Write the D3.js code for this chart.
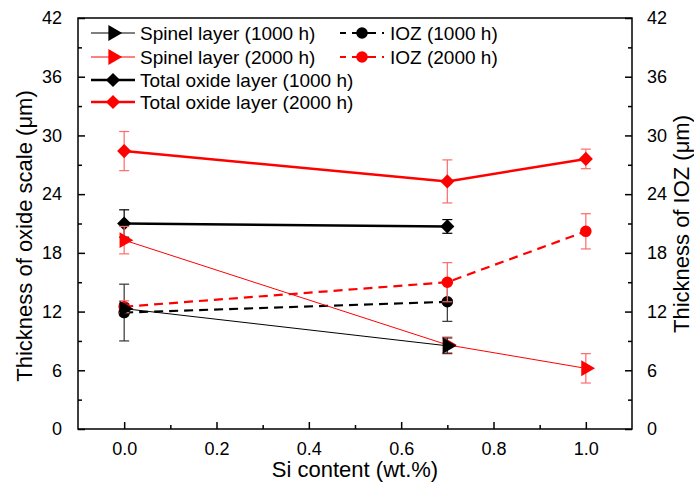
<!DOCTYPE html>
<html>
<head>
<meta charset="utf-8">
<script src="https://cdn.jsdelivr.net/npm/d3@7"></script>
<style>
body { margin:0; background:#fff; }
svg text { font-family: Arial, "Liberation Sans", sans-serif; }
</style>
</head>
<body>
<svg class="chart"></svg>
<script>
// data
var siContent = [0, 0.7, 1.0];
var spinel1000 = [12.3, 8.5];
var spinel1000Err = [0.5, 0.8];
var spinel2000 = [19.3, 8.6, 6.2];
var spinel2000Err = [1.4, 0.8, 1.5];
var total1000 = [21.0, 20.7];
var total1000Err = [1.4, 0.7];
var total2000 = [28.4, 25.3, 27.6];
var total2000Err = [2.0, 2.2, 1.0];
var ioz1000 = [11.9, 13.0];
var ioz1000Err = [2.9, 2.0];
var ioz2000 = [12.5, 15.0, 20.2];
var ioz2000Err = [0.6, 2.0, 1.8];
var yTicks = [0, 6, 12, 18, 24, 30, 36, 42];
var yMinorTicks = [3, 9, 15, 21, 27, 33, 39];
var xTicks = [0, 0.2, 0.4, 0.6, 0.8, 1.0];
var xMinorTicks = [0.1, 0.3, 0.5, 0.7, 0.9];

var drawChart = function(w, h)
{
  var screen = { width:w, height:h };
  var margins = { top:18, bottom:56, left:78, right:62 };
  var width = screen.width - margins.left - margins.right;
  var height = screen.height - margins.top - margins.bottom;

  var svg = d3.select(".chart")
              .attr("width", screen.width)
              .attr("height", screen.height);

  var xScale = d3.scaleLinear().domain([-0.1, 1.1]).range([0, width]);
  var yScale = d3.scaleLinear().domain([0, 42]).range([height, 0]);
  var yScale2 = d3.scaleLinear().domain([0, 42]).range([height, 0]);

  var plot = svg.append("g")
                .attr("transform", "translate(" + margins.left + "," + margins.top + ")");

  // frame
  plot.append("rect").attr("width", width).attr("height", height)
      .attr("fill", "none").attr("stroke", "#000").attr("stroke-width", 1.5);

  // axes, ticks pointing inside
  var xAxis = d3.axisBottom(xScale).tickValues(xTicks).tickFormat(d3.format(".1f"))
                .tickSizeInner(-7).tickSizeOuter(0).tickPadding(13);
  var xMinor = d3.axisBottom(xScale).tickValues(xMinorTicks)
                .tickFormat("").tickSizeInner(-4).tickSizeOuter(0);
  var yAxis = d3.axisLeft(yScale).tickValues(yTicks).tickSizeInner(-7).tickSizeOuter(0).tickPadding(16);
  var yMinor = d3.axisLeft(yScale).tickValues(yMinorTicks).tickFormat("").tickSizeInner(-4).tickSizeOuter(0);
  var yAxis2 = d3.axisRight(yScale2).tickValues(yTicks).tickSizeInner(-7).tickSizeOuter(0).tickPadding(15);
  var yMinor2 = d3.axisRight(yScale2).tickValues(yMinorTicks).tickFormat("").tickSizeInner(-4).tickSizeOuter(0);

  var axes = [
    [xAxis, "translate(0," + height + ")"],
    [xMinor, "translate(0," + height + ")"],
    [yAxis, "translate(0,0)"],
    [yMinor, "translate(0,0)"],
    [yAxis2, "translate(" + width + ",0)"],
    [yMinor2, "translate(" + width + ",0)"]
  ];
  axes.forEach(function(a) {
    var g = plot.append("g").attr("transform", a[1]).call(a[0]);
    g.select(".domain").remove();
    g.selectAll("line").attr("stroke", "#000").attr("stroke-width", 1.5);
    g.selectAll("text").attr("font-size", 18).attr("fill", "#000")
     .attr("font-family", "Arial, 'Liberation Sans', sans-serif");
  });

  // axis titles
  svg.append("text").attr("x", margins.left + width / 2).attr("y", 477)
     .attr("text-anchor", "middle").attr("font-size", 22).text("Si content (wt.%)");
  svg.append("text").attr("transform", "translate(32,236) rotate(-90)")
     .attr("text-anchor", "middle").attr("font-size", 22).text("Thickness of oxide scale (\u03bcm)");
  svg.append("text").attr("transform", "translate(689,224) rotate(-90)")
     .attr("text-anchor", "middle").attr("font-size", 22).text("Thickness of IOZ (\u03bcm)");

  var tri = d3.symbol().type(d3.symbolTriangle).size(110);
  var dia = d3.symbol().type(d3.symbolSquare).size(100);
  var circ = d3.symbol().type(d3.symbolCircle).size(105);

  var series = [
    { vals: total2000, err: total2000Err, color: "#ff0000", errColor: "#ff6a6a", width: 2.5, dash: null, sym: dia, rot: 45 },
    { vals: total1000, err: total1000Err, color: "#000000", errColor: "#000000", width: 2.5, dash: null, sym: dia, rot: 45 },
    { vals: ioz1000, err: ioz1000Err, color: "#000000", errColor: "#333333", width: 2.2, dash: "9,6", sym: circ, rot: 0 },
    { vals: ioz2000, err: ioz2000Err, color: "#ff0000", errColor: "#ff6a6a", width: 2.2, dash: "9,6", sym: circ, rot: 0 },
    { vals: spinel2000, err: spinel2000Err, color: "#ff0000", errColor: "#ff6a6a", width: 1, dash: null, sym: tri, rot: 90 },
    { vals: spinel1000, err: spinel1000Err, color: "#000000", errColor: "#333333", width: 1, dash: null, sym: tri, rot: 90 }
  ];

  var line = d3.line()
               .x(function(d) { return xScale(d.x); })
               .y(function(d) { return yScale(d.y); });

  series.forEach(function(s) {
    var pts = s.vals.map(function(v, i) { return { x: siContent[i], y: v, e: s.err[i] }; });
    var g = plot.append("g");
    // error bars
    var eb = g.selectAll(".eb").data(pts).enter().append("g").attr("stroke", s.errColor).attr("stroke-width", 1.2);
    eb.append("line")
      .attr("x1", function(d) { return xScale(d.x); }).attr("x2", function(d) { return xScale(d.x); })
      .attr("y1", function(d) { return yScale(d.y - d.e); }).attr("y2", function(d) { return yScale(d.y + d.e); });
    eb.append("line")
      .attr("x1", function(d) { return xScale(d.x) - 5; }).attr("x2", function(d) { return xScale(d.x) + 5; })
      .attr("y1", function(d) { return yScale(d.y + d.e); }).attr("y2", function(d) { return yScale(d.y + d.e); });
    eb.append("line")
      .attr("x1", function(d) { return xScale(d.x) - 5; }).attr("x2", function(d) { return xScale(d.x) + 5; })
      .attr("y1", function(d) { return yScale(d.y - d.e); }).attr("y2", function(d) { return yScale(d.y - d.e); });
    g.append("path").datum(pts).attr("d", line).attr("fill", "none")
     .attr("stroke", s.color).attr("stroke-width", s.width)
     .attr("stroke-dasharray", s.dash);
    g.selectAll(".m").data(pts).enter().append("path")
     .attr("d", s.sym).attr("fill", s.color)
     .attr("transform", function(d) { return "translate(" + xScale(d.x) + "," + yScale(d.y) + ") rotate(" + s.rot + ")"; });
  });

  // legend
  var legendItems = [
    { label: "Spinel layer (1000 h)", color: "#000", width: 1, dash: null, sym: tri, rot: 90, x: 91, y: 33 },
    { label: "Spinel layer (2000 h)", color: "#ff0000", width: 1, dash: null, sym: tri, rot: 90, x: 91, y: 57 },
    { label: "Total oxide layer (1000 h)", color: "#000", width: 2.5, dash: null, sym: dia, rot: 45, x: 91, y: 80 },
    { label: "Total oxide layer (2000 h)", color: "#ff0000", width: 2.5, dash: null, sym: dia, rot: 45, x: 91, y: 102 },
    { label: "IOZ (1000 h)", color: "#000", width: 2.2, dash: "9,6", sym: circ, rot: 0, x: 340, y: 33 },
    { label: "IOZ (2000 h)", color: "#ff0000", width: 2.2, dash: "9,6", sym: circ, rot: 0, x: 340, y: 57 }
  ];
  var leg = svg.selectAll(".leg").data(legendItems).enter().append("g")
               .attr("transform", function(d) { return "translate(" + d.x + "," + d.y + ")"; });
  leg.append("line").attr("x1", 0).attr("x2", 44).attr("y1", 0).attr("y2", 0)
     .attr("stroke", function(d) { return d.color; })
     .attr("stroke-width", function(d) { return d.width; })
     .attr("stroke-dasharray", function(d) { return d.dash; })
     .attr("stroke-dashoffset", function(d) { return d.dash ? 3 : 0; });
  leg.append("path").attr("d", function(d) { return d.sym(); })
     .attr("fill", function(d) { return d.color; })
     .attr("transform", function(d) { return "translate(22,0) rotate(" + d.rot + ")"; });
  leg.append("text").attr("x", function(d) { return d.dash ? 50 : 49; }).attr("y", 6.5)
     .attr("font-size", 19).attr("fill", "#000").text(function(d) { return d.label; });
}

drawChart(694, 485);
</script>
</body>
</html>
